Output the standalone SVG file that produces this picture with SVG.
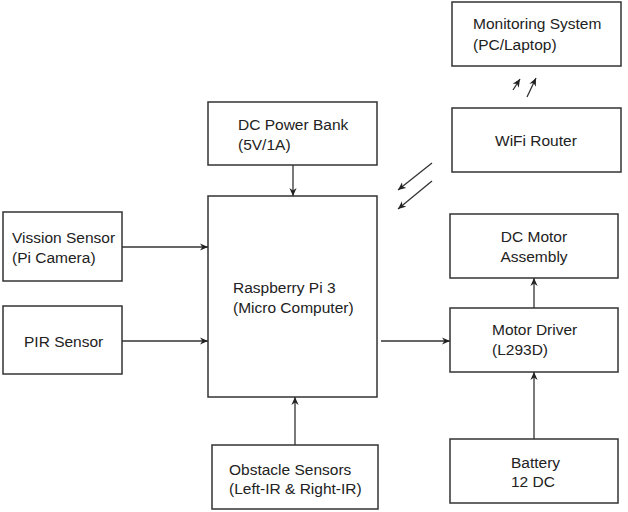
<svg xmlns="http://www.w3.org/2000/svg" width="628" height="512" viewBox="0 0 628 512">
<defs>
<marker id="ah" viewBox="0 0 10 10" refX="10" refY="5" markerWidth="8" markerHeight="8" markerUnits="userSpaceOnUse" orient="auto">
<path d="M0,0.5 L10,5 L0,9.5 L3,5 Z" fill="#222"/>
</marker>
</defs>
<style>
.box{fill:#fff;stroke:#333;stroke-width:1.5}
.t{font-family:"Liberation Sans",Arial,sans-serif;font-size:15.5px;fill:#222}
.c{fill:none;stroke:#333;stroke-width:1.3;marker-end:url(#ah)}
</style>
<rect width="628" height="512" fill="#fff"/>
<g id="monitoring"><rect class="box" x="452" y="2" width="169" height="64"/><text class="t" x="473" y="29">Monitoring System</text><text class="t" x="473" y="50">(PC/Laptop)</text></g>
<g id="wifi"><rect class="box" x="452" y="108" width="169" height="64"/><text class="t" x="495" y="146">WiFi Router</text></g>
<g id="powerbank"><rect class="box" x="208" y="102" width="169" height="63"/><text class="t" x="238" y="130">DC Power Bank</text><text class="t" x="238" y="150">(5V/1A)</text></g>
<g id="raspberry"><rect class="box" x="208" y="196" width="169" height="201"/><text class="t" x="233" y="293">Raspberry Pi 3</text><text class="t" x="233" y="313">(Micro Computer)</text></g>
<g id="vission"><rect class="box" x="3" y="212" width="119" height="69"/><text class="t" x="12" y="243">Vission Sensor</text><text class="t" x="12" y="263">(Pi Camera)</text></g>
<g id="pir"><rect class="box" x="3" y="306" width="119" height="68"/><text class="t" x="24" y="347">PIR Sensor</text></g>
<g id="obstacle"><rect class="box" x="212" y="445" width="166" height="64"/><text class="t" x="229" y="475">Obstacle Sensors</text><text class="t" x="229" y="494">(Left-IR &amp; Right-IR)</text></g>
<g id="motor"><rect class="box" x="450" y="214" width="168" height="64"/><text class="t" x="534" y="242" text-anchor="middle">DC Motor</text><text class="t" x="534" y="262" text-anchor="middle">Assembly</text></g>
<g id="driver"><rect class="box" x="450" y="308" width="168" height="64"/><text class="t" x="492" y="335">Motor Driver</text><text class="t" x="492" y="355">(L293D)</text></g>
<g id="battery"><rect class="box" x="450" y="439" width="168" height="64"/><text class="t" x="511" y="468">Battery</text><text class="t" x="511" y="487">12 DC</text></g>
<g id="connectors">
<line class="c" x1="293" y1="165" x2="293" y2="196"/>
<line class="c" x1="122" y1="247" x2="208" y2="247"/>
<line class="c" x1="122" y1="341" x2="208" y2="341"/>
<line class="c" x1="295" y1="445" x2="295" y2="397"/>
<line class="c" x1="381" y1="341" x2="450" y2="341"/>
<line class="c" x1="534" y1="308" x2="534" y2="278"/>
<line class="c" x1="534" y1="439" x2="534" y2="372"/>
<line class="c" x1="432" y1="163" x2="398" y2="190"/>
<line class="c" x1="432" y1="181" x2="398" y2="209"/>
<line class="c" x1="513" y1="90" x2="520" y2="79"/>
<line class="c" x1="527" y1="97" x2="536" y2="78"/>
</g>
</svg>
